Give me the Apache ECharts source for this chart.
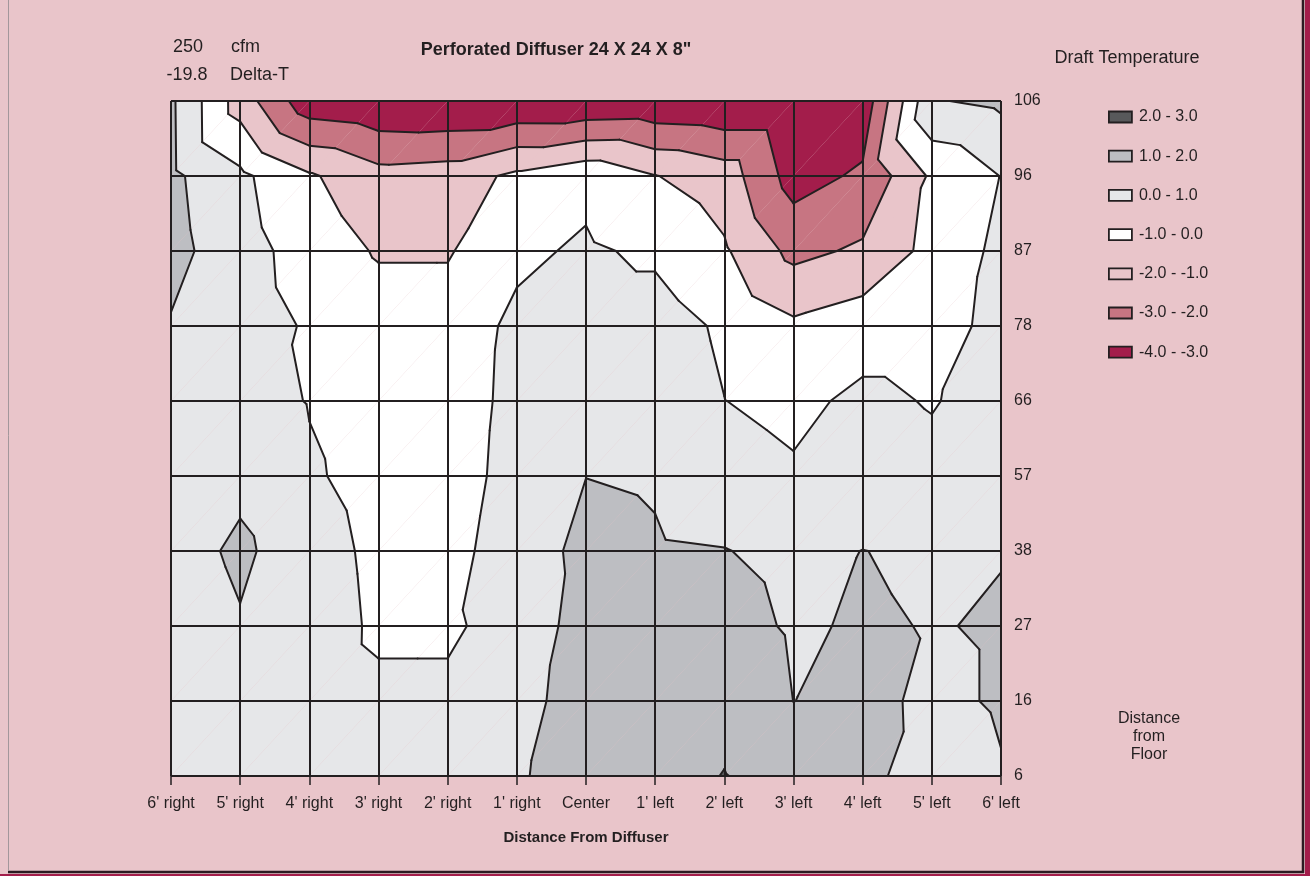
<!DOCTYPE html>
<html>
<head>
<meta charset="utf-8">
<title>Perforated Diffuser 24 X 24 X 8"</title>
<script src="https://cdn.jsdelivr.net/npm/echarts@6/dist/echarts.min.js"></script>
<style>
  html, body { margin: 0; padding: 0; background: #e9c5ca; }
  #chart { width: 1310px; height: 876px; }
</style>
</head>
<body>
<div id="chart"></div>
<script>
// Horizontal measuring positions (left to right) and heights above floor (top to bottom)
const distanceLabels = ["6' right", "5' right", "4' right", "3' right", "2' right", "1' right", "Center",
                        "1' left", "2' left", "3' left", "4' left", "5' left", "6' left"];
const heightLabels = ['106', '96', '87', '78', '66', '57', '38', '27', '16', '6'];

// Draft temperature readings at every position, one array per height
const at106 = [1.17, -1.46, -3.65, -3.90, -3.98, -3.93, -3.94, -3.86, -3.97, -3.96, -3.70, 0.93, 1.20];
const at96  = [1.20, 0.21, -0.88, -1.65, -1.52, -0.79, -0.25, -0.97, -1.47, -3.42, -2.83, -0.84, 0.02];
const at87  = [1.31, 0.40, -0.43, -1.09, -1.09, -0.18, 0.13, -0.17, -0.88, -2.27, -1.84, -0.69, 0.23];
const at78  = [0.93, 0.46, -0.10, -0.51, -0.51, 0.19, 0.45, 0.45, -0.15, -0.82, -0.44, -0.44, 0.32];
const at66  = [0.70, 0.30, -0.03, -0.27, -0.41, 0.22, 0.60, 0.60, 0.01, -0.24, 0.21, -0.06, 0.40];
const at57  = [0.65, 0.70, 0.08, -0.23, -0.34, 0.26, 0.99, 0.89, 0.38, 0.12, 0.50, 0.28, 0.50];
const at38  = [0.44, 1.23, 0.27, -0.14, -0.23, 0.36, 1.32, 1.11, 1.03, 0.77, 1.01, 0.89, 0.98];
const at27  = [0.15, 0.90, 0.32, -0.10, -0.10, 0.26, 1.49, 1.45, 1.32, 0.90, 1.08, 0.97, 1.05];
const at16  = [0.50, 0.60, 0.31, 0.13, 0.13, 0.55, 1.60, 1.65, 1.71, 0.995, 1.15, 0.89, 1.05];
const at6   = [0.50, 0.50, 0.50, 0.50, 0.50, 0.84, 1.70, 1.60, 2.03, 1.60, 1.16, 0.72, 0.97];

// Temperature bands, listed as in the legend
const bandLabels = ['2.0 - 3.0', '1.0 - 2.0', '0.0 - 1.0', '-1.0 - 0.0', '-2.0 - -1.0', '-3.0 - -2.0', '-4.0 - -3.0'];
const bandLow    = [2, 1, 0, -1, -2, -3, -4];
const bandHigh   = [3, 2, 1, 0, -1, -2, -3];
const bandColors = ['#58595b', '#bdbec2', '#e6e7e9', '#ffffff', '#e9c5ca', '#c77582', '#a31d4b'];
const contourLevels = [-3, -2, -1, 0, 1, 2];

const airflow = '250';
const deltaT = '-19.8';

const ink = '#231f20';
const font = '"Liberation Sans", Arial, Helvetica, sans-serif';

const rows = [at106, at96, at87, at78, at66, at57, at38, at27, at16, at6];
const nRows = rows.length;
const nCols = distanceLabels.length;

// Each grid cell is split along its lower-left to upper-right diagonal;
// vertices carry [x index, y index, temperature].
const triangles = [];
for (let r = 0; r < nRows - 1; r++) {
  for (let c = 0; c < nCols - 1; c++) {
    const yTop = nRows - 1 - r, yBot = yTop - 1;
    const tl = [c, yTop, rows[r][c]];
    const tr = [c + 1, yTop, rows[r][c + 1]];
    const bl = [c, yBot, rows[r + 1][c]];
    const br = [c + 1, yBot, rows[r + 1][c + 1]];
    triangles.push([tl, tr, bl], [tr, br, bl]);
  }
}
const triangleData = triangles.map((t, i) => [
  (t[0][0] + t[1][0] + t[2][0]) / 3,
  (t[0][1] + t[1][1] + t[2][1]) / 3,
  i
]);

// Keep the part of a polygon where sign * (value - level) >= 0
function clipPolygon(poly, level, sign) {
  const out = [];
  for (let i = 0; i < poly.length; i++) {
    const a = poly[i], b = poly[(i + 1) % poly.length];
    const ina = sign * (a[2] - level) >= 0;
    const inb = sign * (b[2] - level) >= 0;
    if (ina) out.push(a);
    if (ina !== inb) {
      const t = (level - a[2]) / (b[2] - a[2]);
      out.push([a[0] + t * (b[0] - a[0]), a[1] + t * (b[1] - a[1]), level]);
    }
  }
  return out;
}

function bandRenderer(lo, hi, color) {
  return function (params, api) {
    const tri = triangles[api.value(2)];
    const poly = clipPolygon(clipPolygon(tri, lo, 1), hi, -1);
    if (poly.length < 3) return null;
    return {
      type: 'polygon',
      shape: { points: poly.map(p => api.coord([p[0], p[1]])) },
      style: { fill: color }
    };
  };
}

function contourRenderer(params, api) {
  const tri = triangles[api.value(2)];
  const children = [];
  contourLevels.forEach(level => {
    const pts = [];
    for (let i = 0; i < 3; i++) {
      const a = tri[i], b = tri[(i + 1) % 3];
      if ((a[2] < level) !== (b[2] < level)) {
        const t = (level - a[2]) / (b[2] - a[2]);
        pts.push(api.coord([a[0] + t * (b[0] - a[0]), a[1] + t * (b[1] - a[1])]));
      }
    }
    if (pts.length === 2) {
      children.push({
        type: 'line',
        shape: { x1: pts[0][0], y1: pts[0][1], x2: pts[1][0], y2: pts[1][1] },
        style: { stroke: ink, lineWidth: 2, lineCap: 'round' }
      });
    }
  });
  return { type: 'group', children };
}

const bandSeries = bandLabels.map((name, k) => ({
  type: 'custom',
  name,
  z: 2,
  silent: true,
  itemStyle: { color: bandColors[k] },
  renderItem: bandRenderer(bandLow[k], bandHigh[k], bandColors[k]),
  encode: { x: 0, y: 1 },
  data: triangleData
}));

const contourSeries = {
  type: 'custom',
  name: 'contours',
  z: 3,
  silent: true,
  renderItem: contourRenderer,
  encode: { x: 0, y: 1 },
  data: triangleData
};

const chart = echarts.init(document.getElementById('chart'));
chart.setOption({
  backgroundColor: '#e9c5ca',
  animation: false,
  textStyle: { fontFamily: font },
  grid: { left: 171, right: 309, top: 101, bottom: 100 },
  xAxis: {
    type: 'value', min: 0, max: nCols - 1, interval: 1, z: 10,
    axisLine: { show: false },
    axisTick: { show: true, length: 9, lineStyle: { color: ink, width: 1.5 } },
    splitLine: { show: true, lineStyle: { color: ink, width: 2 } },
    axisLabel: { formatter: v => distanceLabels[v], color: ink, fontSize: 16, margin: 20, fontFamily: font },
    name: 'Distance From Diffuser', nameLocation: 'middle', nameGap: 54,
    nameTextStyle: { color: ink, fontSize: 15, fontWeight: 'bold', fontFamily: font }
  },
  yAxis: {
    type: 'value', position: 'right', min: 0, max: nRows - 1, interval: 1, z: 10,
    axisLine: { show: false },
    axisTick: { show: true, length: 9, lineStyle: { color: ink, width: 1.5 } },
    splitLine: { show: true, lineStyle: { color: ink, width: 2 } },
    axisLabel: { formatter: v => heightLabels[nRows - 1 - v], color: ink, fontSize: 16, margin: 13, fontFamily: font }
  },
  legend: {
    data: bandLabels, orient: 'vertical', left: 1108, top: 109, padding: 0,
    itemWidth: 23, itemHeight: 11, itemGap: 23.2, icon: 'rect', selectedMode: false,
    itemStyle: { borderColor: ink, borderWidth: 1.8 },
    textStyle: { color: ink, fontSize: 16, lineHeight: 16, padding: [0, 0, 0, 2], fontFamily: font }
  },
  graphic: [
    // panel frame
    { type: 'rect', silent: true, z: 0, shape: { x: 1305, y: 0, width: 5, height: 876 }, style: { fill: '#a31d4b' } },
    { type: 'rect', silent: true, z: 0, shape: { x: 0, y: 874, width: 1310, height: 2 }, style: { fill: '#a31d4b' } },
    { type: 'line', silent: true, shape: { x1: 1303, y1: 0, x2: 1303, y2: 873 }, style: { stroke: '#2b1b22', lineWidth: 2.5 } },
    { type: 'line', silent: true, shape: { x1: 8, y1: 872, x2: 1304, y2: 872 }, style: { stroke: '#2b1b22', lineWidth: 2.5 } },
    { type: 'line', silent: true, shape: { x1: 8.5, y1: 0, x2: 8.5, y2: 871 }, style: { stroke: '#a3979b', lineWidth: 1 } },
    // heading texts
    { type: 'text', silent: true, style: { text: 'Perforated Diffuser 24 X 24 X 8"', x: 556, y: 50, align: 'center', verticalAlign: 'middle', fill: ink, font: 'bold 18px ' + font } },
    { type: 'text', silent: true, style: { text: airflow, x: 188, y: 47, align: 'center', verticalAlign: 'middle', fill: ink, font: '18px ' + font } },
    { type: 'text', silent: true, style: { text: 'cfm', x: 231, y: 47, align: 'left', verticalAlign: 'middle', fill: ink, font: '18px ' + font } },
    { type: 'text', silent: true, style: { text: deltaT, x: 187, y: 75, align: 'center', verticalAlign: 'middle', fill: ink, font: '18px ' + font } },
    { type: 'text', silent: true, style: { text: 'Delta-T', x: 230, y: 75, align: 'left', verticalAlign: 'middle', fill: ink, font: '18px ' + font } },
    { type: 'text', silent: true, style: { text: 'Draft Temperature', x: 1127, y: 58, align: 'center', verticalAlign: 'middle', fill: ink, font: '18px ' + font } },
    { type: 'text', silent: true, style: { text: 'Distance\nfrom\nFloor', x: 1149, y: 737, align: 'center', verticalAlign: 'middle', lineHeight: 18, fill: ink, font: '16px ' + font } }
  ],
  series: bandSeries.concat([contourSeries])
});
</script>
</body>
</html>
